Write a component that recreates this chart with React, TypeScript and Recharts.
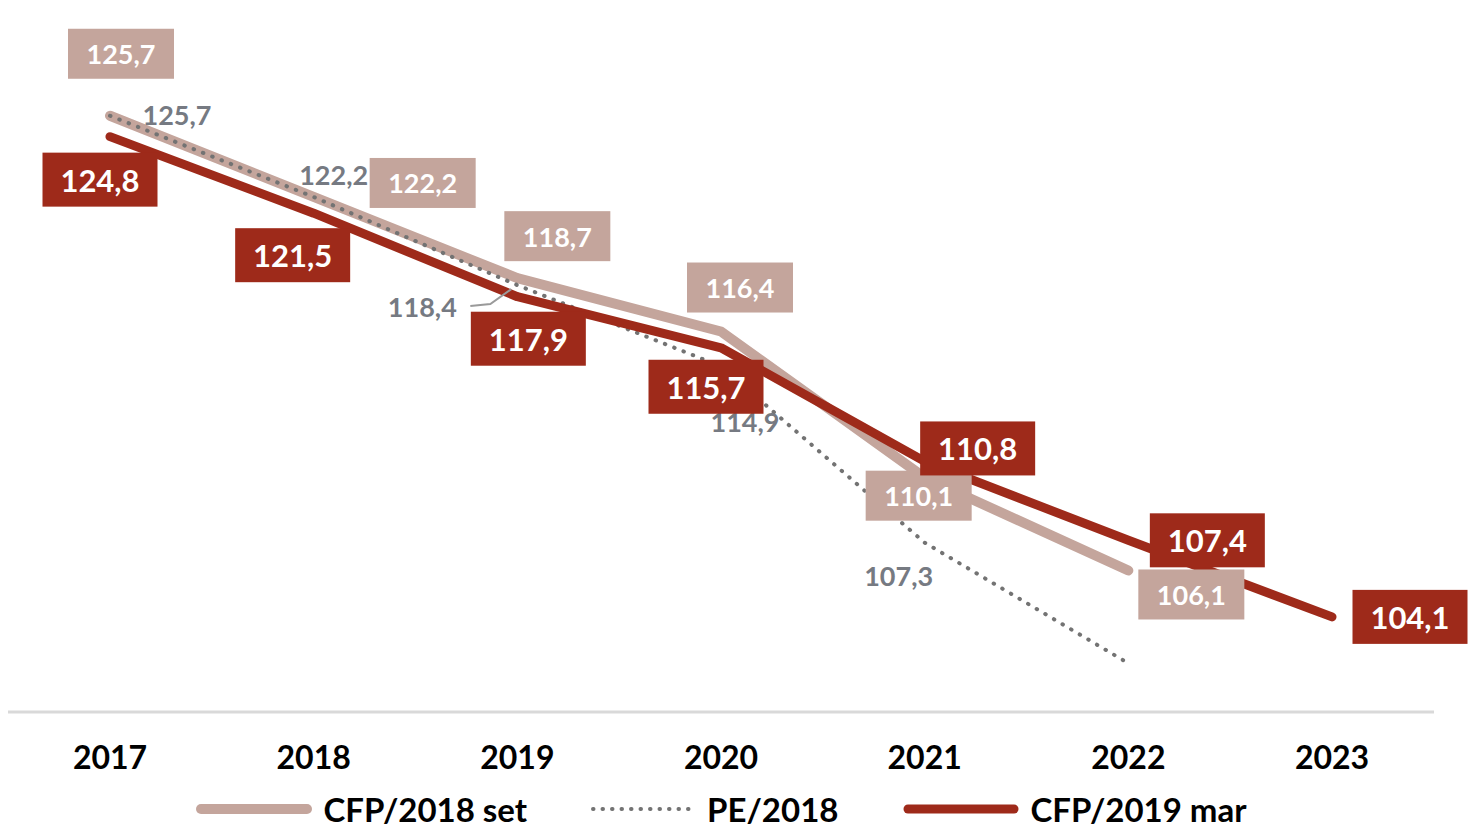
import { LineChart, Line, XAxis, YAxis, Legend } from "recharts"

const years = ["2017", "2018", "2019", "2020", "2021", "2022", "2023"]
const cfp2018Set = [125.7, 122.2, 118.7, 116.4, 110.1, 106.1, null]
const pe2018 = [125.7, 122.2, 118.4, 114.9, 107.3, 102.1, null]
const pe2018Labelled = [true, true, true, true, true, false, false]
const cfp2019Mar = [124.8, 121.5, 117.9, 115.7, 110.8, 107.4, 104.1]

const RED = "#9E2A1A"
const LIGHT = "#C4A59C"
const GREY = "#767a82"
const DOTS = "#737373"
const FONT = "Lato, 'Open Sans', sans-serif"

// label placement (manual, like the original)
const MAR_OFFSETS = [[-10, 43], [-21, 42], [11, 42], [-15, 39], [53, -13], [79, 0], [78, 0]]
const SET_OFFSETS = [[11, -62], [109, -14], [40, -42], [19, -44], [-6, 18], [63, 24]]
const PE_OFFSETS = [[67, -1], [20, -22], [-95, 21], [24, 55], [-26, 33]]

const data = years.map((year, i) => ({
  year,
  set: cfp2018Set[i],
  pe: pe2018[i],
  mar: cfp2019Mar[i],
}))

const fmt = (v: number) => v.toFixed(1).replace(".", ",")

function BoxLabel(props: any) {
  const { x, y, value, index, offsets, fill, w, h, fontSize } = props
  if (value == null || !offsets[index]) return null
  const cx = x + offsets[index][0]
  const cy = y + offsets[index][1]
  return (
    <g>
      <rect x={cx - w / 2} y={cy - h / 2} width={w} height={h} fill={fill} />
      <text x={cx} y={cy} textAnchor="middle" dominantBaseline="central" fill="#fff"
        fontSize={fontSize} fontWeight={700} fontFamily={FONT}>
        {fmt(value)}
      </text>
    </g>
  )
}

function PeLabel(props: any) {
  const { x, y, value, index } = props
  if (value == null || !pe2018Labelled[index]) return null
  const cx = x + PE_OFFSETS[index][0]
  const cy = y + PE_OFFSETS[index][1]
  return (
    <g>
      {index === 2 && (
        <polyline points={`${cx + 48},${cy} ${cx + 68},${cy - 2} ${x - 6},${y + 4}`}
          fill="none" stroke="#9a9a9a" strokeWidth={2} />
      )}
      <text x={cx} y={cy} textAnchor="middle" dominantBaseline="central" fill={GREY}
        fontSize={27} fontWeight={700} fontFamily={FONT}>
        {fmt(value)}
      </text>
    </g>
  )
}

const legendItems = [
  { name: "CFP/2018 set", color: LIGHT, width: 10, dash: undefined as string | undefined, len: 118 },
  { name: "PE/2018", color: DOTS, width: 4, dash: "0.5 9", len: 106 },
  { name: "CFP/2019 mar", color: RED, width: 9, dash: undefined as string | undefined, len: 118 },
]

function LegendContent() {
  return (
    <div style={{ display: "flex", justifyContent: "center", alignItems: "center", height: 40,
      fontFamily: FONT, fontWeight: 700, fontSize: 33, color: "#000", marginTop: 2 }}>
      {legendItems.map((it, i) => (
        <div key={it.name} style={{ display: "flex", alignItems: "center", marginRight: i < 2 ? 64 : 0 }}>
          <svg width={it.len} height={14}>
            <line x1={it.dash ? 2 : 6} x2={it.len - (it.dash ? 2 : 6)} y1={7} y2={7} stroke={it.color}
              strokeWidth={it.width} strokeLinecap="round" strokeDasharray={it.dash} />
          </svg>
          <span style={{ marginLeft: 10 }}>{it.name}</span>
        </div>
      ))}
    </div>
  )
}

export default function App() {
  return (
    <div style={{ position: "absolute", left: 0, top: 0, width: 1469, height: 827, background: "#fff" }}>
      <LineChart width={1469} height={827} data={data} margin={{ top: 16, right: 35, left: 8, bottom: 0 }}>
        <XAxis dataKey="year" padding={{ left: 102, right: 102 }} height={75}
          axisLine={{ stroke: "#D9D9D9", strokeWidth: 3 }} tickLine={false} tickMargin={28}
          tick={{ fill: "#000", fontSize: 32, fontWeight: 700, fontFamily: FONT }} />
        <YAxis hide domain={[100, 130]} />
        <Legend verticalAlign="bottom" height={40} content={<LegendContent />} />
        <Line dataKey="set" name="CFP/2018 set" stroke={LIGHT} strokeWidth={10} strokeLinecap="round"
          strokeLinejoin="round" dot={false} isAnimationActive={false}
          label={(p: any) => <BoxLabel {...p} offsets={SET_OFFSETS} fill={LIGHT} w={106} h={50} fontSize={27} />} />
        <Line dataKey="pe" name="PE/2018" stroke={DOTS} strokeWidth={4} strokeDasharray="0.5 9.5"
          strokeLinecap="round" dot={false} isAnimationActive={false} label={(p: any) => <PeLabel {...p} />} />
        <Line dataKey="mar" name="CFP/2019 mar" stroke={RED} strokeWidth={9} strokeLinecap="round"
          strokeLinejoin="round" dot={false} isAnimationActive={false}
          label={(p: any) => <BoxLabel {...p} offsets={MAR_OFFSETS} fill={RED} w={115} h={54} fontSize={31} />} />
      </LineChart>
    </div>
  )
}
